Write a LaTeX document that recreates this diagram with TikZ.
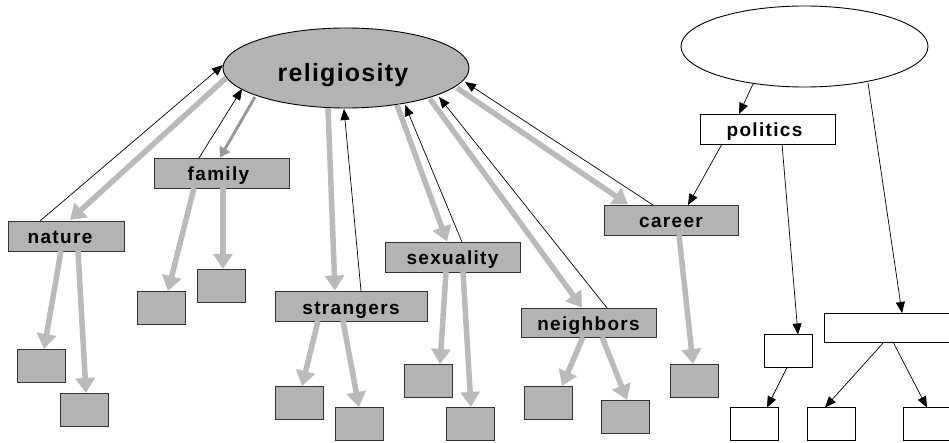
\documentclass[tikz,border=0pt]{standalone}
\usepackage{fontspec}
\setmainfont{Liberation Sans}
\newfontfamily\lblfont{Liberation Sans}[LetterSpace=7]
\newfontfamily\bigfont{Liberation Sans}[LetterSpace=5]
\usetikzlibrary{arrows.meta,shapes.geometric,calc}
\definecolor{boxgray}{HTML}{B3B3B3}
\definecolor{arrgray}{HTML}{BABABA}
\definecolor{darkarr}{HTML}{999999}
\definecolor{edgecol}{HTML}{333333}
\tikzset{
  lbl/.style={draw=edgecol, line width=0.9pt, fill=boxgray, inner sep=0pt,
    minimum height=30pt, text height=16pt, text depth=0pt,
    font=\lblfont\bfseries\fontsize{19}{22}\selectfont},
  leaf/.style={draw=edgecol, line width=0.9pt, fill=boxgray, inner sep=0pt,
    minimum width=48pt, minimum height=33pt},
  wleaf/.style={draw=black, line width=0.8pt, fill=white, inner sep=0pt,
    minimum width=48pt, minimum height=33pt},
  garrow/.style={draw=arrgray, line width=5.5pt, -{Triangle[length=15pt,width=19pt]}},
  karrow/.style={draw=black, line width=0.7pt, -{Triangle[length=11pt,width=9pt]}},
  darrow/.style={draw=darkarr, line width=3pt, -{Triangle[length=10pt,width=12pt]}},
}
\begin{document}
\begin{tikzpicture}[x=1pt,y=-1pt]
\useasboundingbox (0,0) rectangle (949,443);
\clip (0,0) rectangle (949,443);
% ellipses
\node[ellipse, draw=black, line width=0.9pt, fill=boxgray, inner sep=0pt,
  minimum width=246pt, minimum height=80pt, text height=28pt, text depth=0pt,
  font=\bigfont\bfseries\fontsize{25}{29}\selectfont] (rel) at (346,68) {religiosity\hspace*{6pt}};
\node[ellipse, draw=black, line width=0.9pt, fill=white, inner sep=0pt,
  minimum width=247pt, minimum height=81pt] (top) at (804.5,46.5) {};
% label boxes
\node[lbl, minimum width=116pt] (nature) at (66,236) {nature\hspace*{12pt}};
\node[lbl, minimum width=135pt] (family) at (221.5,173) {family\hspace*{6pt}};
\node[lbl, minimum width=152pt] (strangers) at (351,306) {strangers};
\node[lbl, minimum width=135pt] (sexuality) at (452.5,257) {sexuality};
\node[lbl, minimum width=135pt, minimum height=29pt] (neighbors) at (588.5,322.5) {neighbors};
\node[lbl, minimum width=134pt] (career) at (671,220) {career};
\node[lbl, fill=white, draw=black, minimum width=135pt] (politics) at (767.5,129) {politics\hspace*{6pt}};
% gray leaves
\node[leaf] (n1) at (41.5,365.5) {};
\node[leaf] (n2) at (84,410) {};
\node[leaf] (f1) at (161.5,307.5) {};
\node[leaf] (f2) at (221.5,285.5) {};
\node[leaf] (s1) at (299,402.5) {};
\node[leaf] (s2) at (359,424) {};
\node[leaf] (x1) at (428,381) {};
\node[leaf] (x2) at (470,424) {};
\node[leaf] (h1) at (548,402.5) {};
\node[leaf] (h2) at (625,416.5) {};
\node[leaf] (c1) at (694,380.5) {};
% white boxes
\node[wleaf] (w1) at (788,351) {};
\node[wleaf, minimum width=128pt, minimum height=29pt] (wide) at (888,327.5) {};
\node[wleaf] (b1) at (754,424) {};
\node[wleaf] (b2) at (831,424) {};
\node[wleaf] (b3) at (927,424) {};
% religiosity <-> topics
\draw[garrow] ($(rel)+(-120,10)$) -- ($(nature)+(4,-16)$);
\draw[karrow] ($(nature)+(-26,-15)$) -- ($(rel)+(-123,-3)$);
\draw[karrow] ($(family)+(-22.5,-15)$) -- ($(rel)+(-104,21)$);
\draw[darrow] ($(rel)+(-91,29)$) -- ($(family)+(-1.5,-15.5)$);
\draw[garrow] ($(rel)+(-18,40)$) -- ($(strangers)+(-16,-15.5)$);
\draw[karrow] ($(strangers)+(10,-15)$) -- ($(rel)+(-2,41)$);
\draw[garrow] ($(rel)+(51,37)$) -- ($(sexuality)+(-5.5,-15.5)$);
\draw[karrow] ($(sexuality)+(9.5,-15)$) -- ($(rel)+(59,37)$);
\draw[garrow] ($(rel)+(84,31)$) -- ($(neighbors)+(-6.5,-15)$);
\draw[karrow] ($(neighbors)+(18.5,-14.5)$) -- ($(rel)+(93,29)$);
\draw[garrow] ($(rel)+(111,20)$) -- ($(career)+(-43,-15.5)$);
\draw[karrow] ($(career)+(-18,-15)$) -- ($(rel)+(119,14)$);
% topics -> leaves
\draw[garrow] ($(nature)+(-5,15)$) -- ($(n1)+(2.5,-16.5)$);
\draw[garrow] ($(nature)+(12,15)$) -- ($(n2)+(2,-17)$);
\draw[garrow] ($(family)+(-27.5,15)$) -- ($(f1)+(6.5,-16.5)$);
\draw[garrow] ($(family)+(1.5,15)$) -- ($(f2)+(1.5,-16.5)$);
\draw[garrow] ($(strangers)+(-33,15)$) -- ($(s1)+(3,-16.5)$);
\draw[garrow] ($(strangers)+(-8,15)$) -- ($(s2)+(0,-17)$);
\draw[garrow] ($(sexuality)+(-6.5,15)$) -- ($(x1)+(12,-17)$);
\draw[garrow] ($(sexuality)+(10.5,15)$) -- ($(x2)+(1,-17)$);
\draw[garrow] ($(neighbors)+(-5.5,14.5)$) -- ($(h1)+(14,-16.5)$);
\draw[garrow] ($(neighbors)+(13.5,14.5)$) -- ($(h2)+(2,-16.5)$);
\draw[garrow] ($(career)+(8,15)$) -- ($(c1)+(-1,-16.5)$);
% right side
\draw[karrow] ($(top)+(-51.5,37.5)$) -- ($(politics)+(-28.5,-15)$);
\draw[karrow] ($(politics)+(-45.5,15)$) -- ($(career)+(17,-15)$);
\draw[karrow] ($(politics)+(14.5,15)$) -- ($(w1)+(10,-16.5)$);
\draw[karrow] ($(top)+(63.5,36.5)$) -- ($(wide)+(14,-14.5)$);
\draw[karrow] ($(w1)+(-1,16.5)$) -- ($(b1)+(13,-16.5)$);
\draw[karrow] ($(wide)+(-4,14.5)$) -- ($(b2)+(-6,-16.5)$);
\draw[karrow] ($(wide)+(5,14.5)$) -- ($(b3)+(0,-16.5)$);
\end{tikzpicture}
\end{document}
